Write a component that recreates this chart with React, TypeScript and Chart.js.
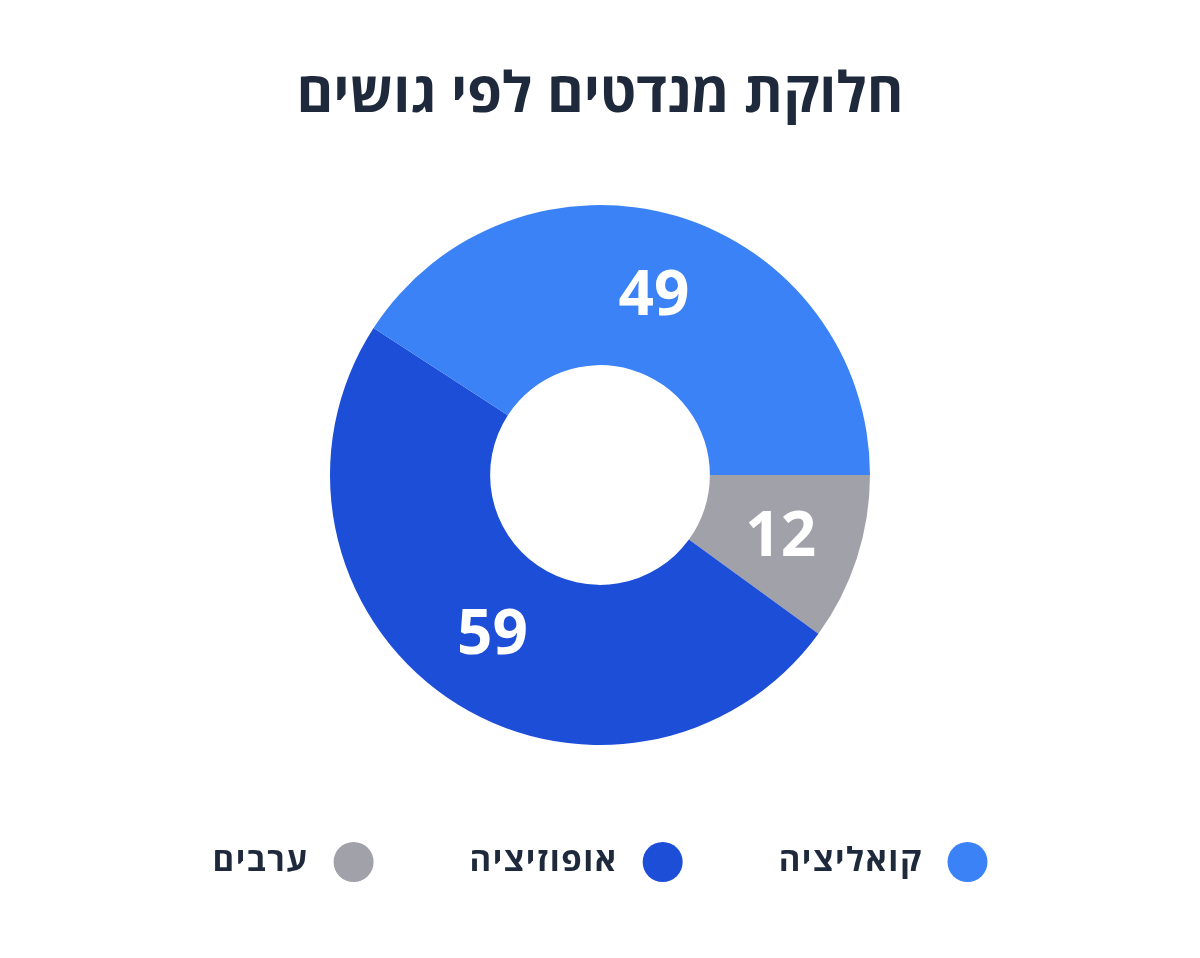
import { useEffect, useRef } from 'react';
import { Chart, registerables } from 'chart.js';

Chart.register(...registerables);

// data, listed in drawing order (clockwise from 3 o'clock)
const blocs = ['ערבים', 'אופוזיציה', 'קואליציה'];
const seats = [12, 59, 49];
const blocColors = ['#a1a1aa', '#1d4ed8', '#3b82f6'];
// legend reads right to left: coalition, opposition, arabs
const legendOrder = [2, 1, 0];

const FONT = "'Open Sans', 'Liberation Sans', 'DejaVu Sans', sans-serif";
const TEXT_COLOR = '#1e293b';

const sliceLabels = {
  id: 'sliceLabels',
  afterDatasetsDraw(chart: Chart) {
    const { ctx } = chart;
    const meta = chart.getDatasetMeta(0);
    ctx.save();
    ctx.font = `700 62px ${FONT}`;
    ctx.fillStyle = '#ffffff';
    ctx.textAlign = 'center';
    ctx.textBaseline = 'alphabetic';
    meta.data.forEach((arc: any, i: number) => {
      const { x, y } = arc.tooltipPosition(false);
      ctx.fillText(String(seats[i]), x, y + 22);
    });
    ctx.restore();
  },
};

const legendRow = {
  id: 'legendRow',
  afterDraw(chart: Chart) {
    const { ctx } = chart;
    const dot = 20;
    const gapText = 25;
    const gapItem = 96;
    const y = 862;
    ctx.save();
    ctx.font = `700 33px ${FONT}`;
    (ctx as any).letterSpacing = '1.5px';
    ctx.direction = 'rtl';
    ctx.textAlign = 'right';
    ctx.textBaseline = 'middle';
    const widths = legendOrder.map((i) => ctx.measureText(blocs[i]).width);
    const total =
      widths.reduce((s, w) => s + w + dot * 2 + gapText, 0) + gapItem * (legendOrder.length - 1);
    let x = chart.width / 2 + total / 2;
    legendOrder.forEach((i, k) => {
      ctx.fillStyle = blocColors[i];
      ctx.beginPath();
      ctx.arc(x - dot, y, dot, 0, Math.PI * 2);
      ctx.fill();
      x -= dot * 2 + gapText;
      ctx.fillStyle = TEXT_COLOR;
      ctx.fillText(blocs[i], x, y);
      x -= widths[k] + gapItem;
    });
    ctx.restore();
  },
};

function SeatsDoughnut() {
  const canvasRef = useRef<HTMLCanvasElement>(null);
  const chartRef = useRef<Chart | null>(null);

  useEffect(() => {
    if (!canvasRef.current) return;
    chartRef.current?.destroy();
    chartRef.current = new Chart(canvasRef.current, {
      type: 'doughnut',
      data: {
        labels: blocs,
        datasets: [
          {
            data: seats,
            backgroundColor: blocColors,
            borderWidth: 0,
            hoverOffset: 0,
          },
        ],
      },
      options: {
        animation: false,
        responsive: true,
        maintainAspectRatio: false,
        rotation: 90,
        cutout: '40.7%',
        layout: { padding: { top: 0, bottom: 213, left: 0, right: 0 } },
        plugins: {
          legend: { display: false },
          tooltip: { enabled: false },
          title: {
            display: true,
            text: 'חלוקת מנדטים לפי גושים',
            color: TEXT_COLOR,
            font: { family: FONT, size: 56, weight: 'bold', lineHeight: 1.2 },
            padding: { top: 62, bottom: 75.8 },
          },
        },
      },
      plugins: [sliceLabels, legendRow],
    });
    return () => {
      chartRef.current?.destroy();
      chartRef.current = null;
    };
  }, []);

  return <canvas ref={canvasRef} />;
}

export default function App() {
  useEffect(() => {
    document.body.style.margin = '0';
    document.body.style.background = '#ffffff';
  }, []);
  return (
    <div style={{ width: 1200, height: 958, position: 'relative', background: '#ffffff' }}>
      <SeatsDoughnut />
    </div>
  );
}
